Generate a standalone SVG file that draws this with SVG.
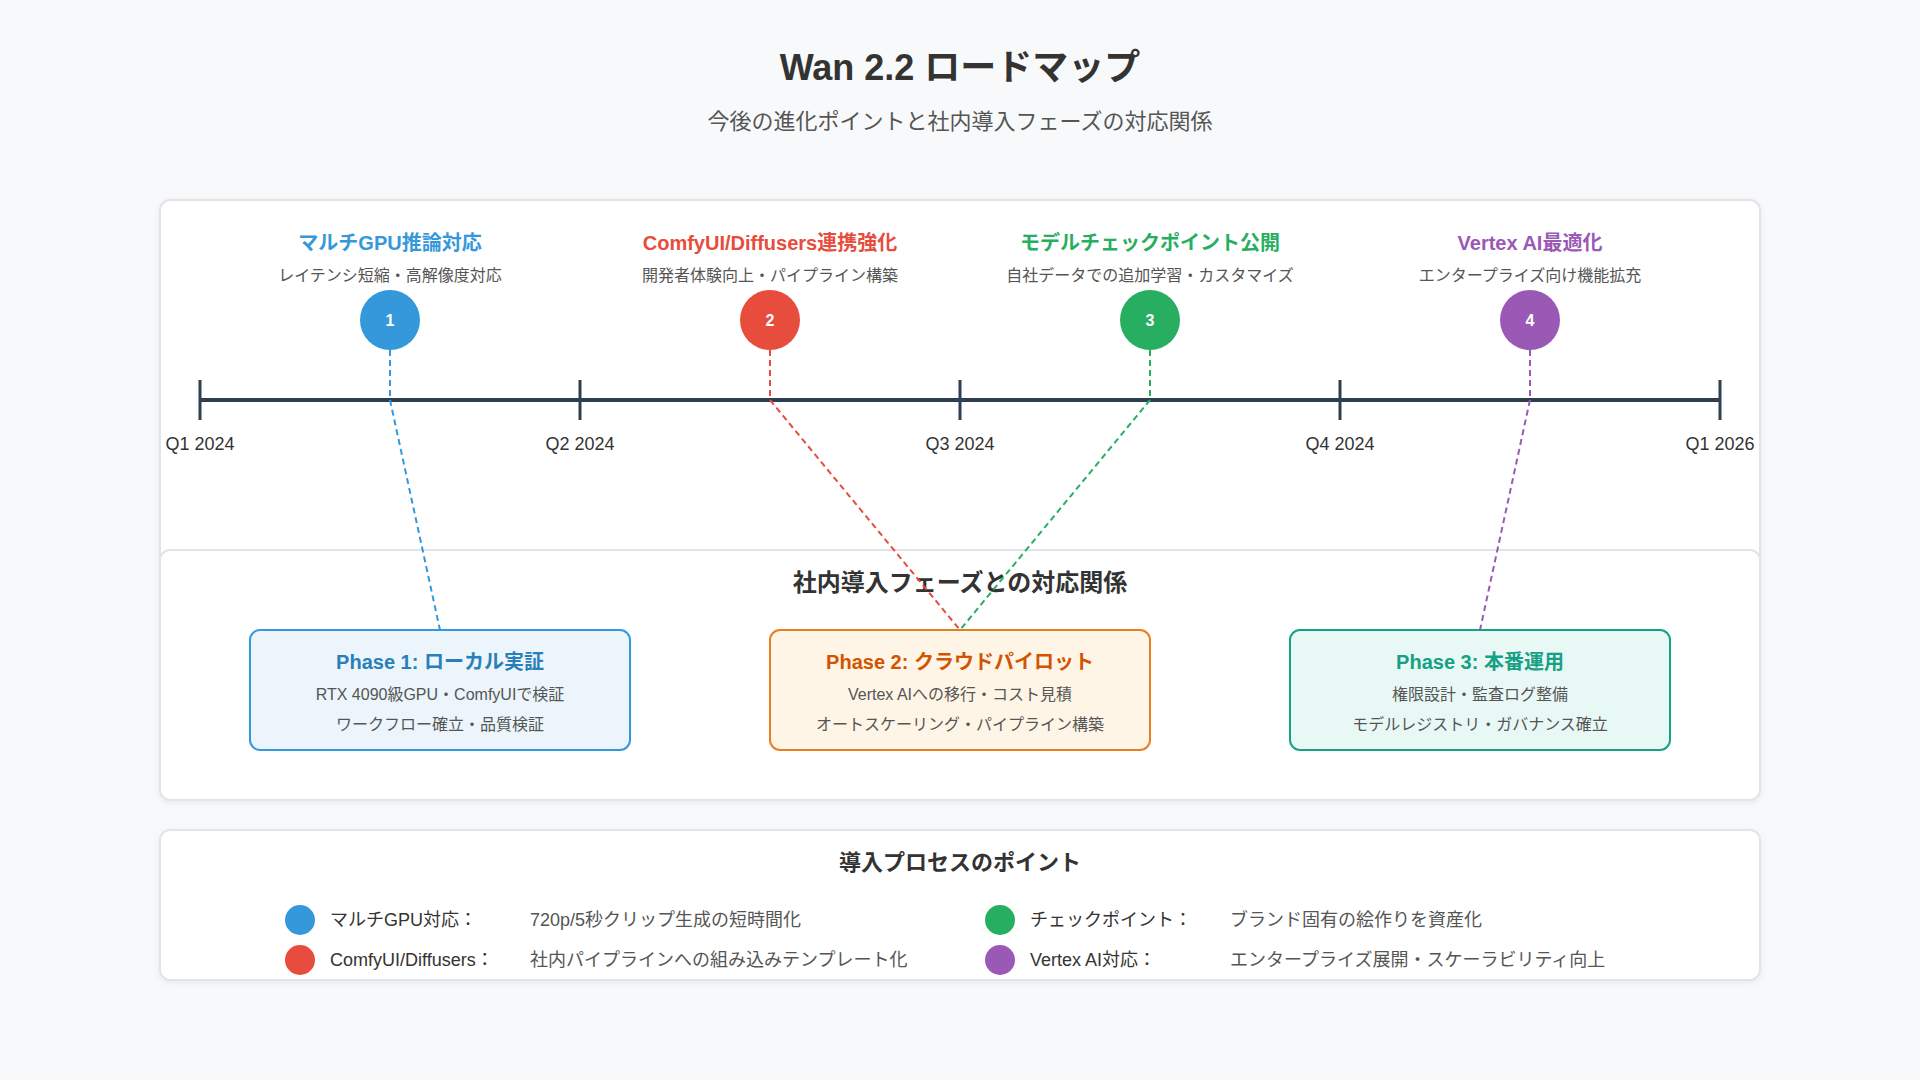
<svg xmlns="http://www.w3.org/2000/svg" width="1920" height="1080" viewBox="0 0 1920 1080">
<defs>
<style>
text{font-family:"Liberation Sans","Noto Sans CJK JP",sans-serif;text-anchor:middle}
.title{font-size:36px;font-weight:bold;fill:#333}
.sub{font-size:22px;fill:#555}
.panel{fill:#fff;stroke:#e2e4e7;stroke-width:2}
.tick{stroke:#2c3e50;stroke-width:3}
.axis{stroke:#2c3e50;stroke-width:4}
.qlab{font-size:18px;fill:#333}
.mtitle{font-size:20px;font-weight:bold}
.mdesc{font-size:16px;fill:#555}
.num{font-size:16px;font-weight:bold;fill:#fff}
.conn{fill:none;stroke-width:2;stroke-dasharray:6 4}
.ptitle{font-size:20px;font-weight:bold}
.pbody{font-size:16px;fill:#555}
.sect{font-weight:bold;fill:#333}
.leg{font-size:18px;fill:#333;text-anchor:start}
.legd{font-size:18px;fill:#555;text-anchor:start}
</style>
<filter id="sh" x="-5%" y="-5%" width="110%" height="115%">
<feDropShadow dx="0" dy="2" stdDeviation="3" flood-color="#000" flood-opacity="0.06"/>
</filter>
</defs>
<rect width="1920" height="1080" fill="#f8f9fa"/>
<text class="title" x="960" y="80">Wan 2.2 ロードマップ</text>
<text class="sub" x="960" y="129">今後の進化ポイントと社内導入フェーズの対応関係</text>

<g id="panel-timeline">
<rect class="panel" x="160" y="200" width="1600" height="600" rx="10" filter="url(#sh)"/>
</g>
<g id="panel-phases">
<rect class="panel" x="160" y="550" width="1600" height="250" rx="10"/>
<text class="sect" x="960" y="591" font-size="24">社内導入フェーズとの対応関係</text>
</g>

<g id="timeline">
<line class="axis" x1="200" y1="400" x2="1720" y2="400"/>
<line class="tick" x1="200" y1="380" x2="200" y2="420"/>
<line class="tick" x1="580" y1="380" x2="580" y2="420"/>
<line class="tick" x1="960" y1="380" x2="960" y2="420"/>
<line class="tick" x1="1340" y1="380" x2="1340" y2="420"/>
<line class="tick" x1="1720" y1="380" x2="1720" y2="420"/>
<text class="qlab" x="200" y="450">Q1 2024</text>
<text class="qlab" x="580" y="450">Q2 2024</text>
<text class="qlab" x="960" y="450">Q3 2024</text>
<text class="qlab" x="1340" y="450">Q4 2024</text>
<text class="qlab" x="1720" y="450">Q1 2026</text>
</g>

<g id="connectors">
<polyline class="conn" stroke="#3498db" points="390,350 390,400 440,630"/>
<polyline class="conn" stroke="#e74c3c" points="770,350 770,400 960,630"/>
<polyline class="conn" stroke="#27ae60" points="1150,350 1150,400 960,630"/>
<polyline class="conn" stroke="#9b59b6" points="1530,350 1530,400 1480,630"/>
</g>

<g id="milestone-1">
<text class="mtitle" x="390" y="250" fill="#3498db">マルチGPU推論対応</text>
<text class="mdesc" x="390" y="281">レイテンシ短縮・高解像度対応</text>
<circle cx="390" cy="320" r="30" fill="#3498db"/>
<text class="num" x="390" y="326">1</text>
</g>
<g id="milestone-2">
<text class="mtitle" x="770" y="250" fill="#e74c3c">ComfyUI/Diffusers連携強化</text>
<text class="mdesc" x="770" y="281">開発者体験向上・パイプライン構築</text>
<circle cx="770" cy="320" r="30" fill="#e74c3c"/>
<text class="num" x="770" y="326">2</text>
</g>
<g id="milestone-3">
<text class="mtitle" x="1150" y="250" fill="#27ae60">モデルチェックポイント公開</text>
<text class="mdesc" x="1150" y="281">自社データでの追加学習・カスタマイズ</text>
<circle cx="1150" cy="320" r="30" fill="#27ae60"/>
<text class="num" x="1150" y="326">3</text>
</g>
<g id="milestone-4">
<text class="mtitle" x="1530" y="250" fill="#9b59b6">Vertex AI最適化</text>
<text class="mdesc" x="1530" y="281">エンタープライズ向け機能拡充</text>
<circle cx="1530" cy="320" r="30" fill="#9b59b6"/>
<text class="num" x="1530" y="326">4</text>
</g>

<g id="phase-1">
<rect x="250" y="630" width="380" height="120" rx="10" fill="#ebf5fb" stroke="#3498db" stroke-width="2"/>
<text class="ptitle" x="440" y="669" fill="#2980b9">Phase 1: ローカル実証</text>
<text class="pbody" x="440" y="700">RTX 4090級GPU・ComfyUIで検証</text>
<text class="pbody" x="440" y="730">ワークフロー確立・品質検証</text>
</g>
<g id="phase-2">
<rect x="770" y="630" width="380" height="120" rx="10" fill="#fef5e7" stroke="#e67e22" stroke-width="2"/>
<text class="ptitle" x="960" y="669" fill="#d35400">Phase 2: クラウドパイロット</text>
<text class="pbody" x="960" y="700">Vertex AIへの移行・コスト見積</text>
<text class="pbody" x="960" y="730">オートスケーリング・パイプライン構築</text>
</g>
<g id="phase-3">
<rect x="1290" y="630" width="380" height="120" rx="10" fill="#e8f8f5" stroke="#16a085" stroke-width="2"/>
<text class="ptitle" x="1480" y="669" fill="#16a085">Phase 3: 本番運用</text>
<text class="pbody" x="1480" y="700">権限設計・監査ログ整備</text>
<text class="pbody" x="1480" y="730">モデルレジストリ・ガバナンス確立</text>
</g>

<g id="legend">
<rect class="panel" x="160" y="830" width="1600" height="150" rx="10" filter="url(#sh)"/>
<text class="sect" x="960" y="870" font-size="22">導入プロセスのポイント</text>
<circle cx="300" cy="920" r="15" fill="#3498db"/>
<text class="leg" x="330" y="926">マルチGPU対応：</text>
<text class="legd" x="530" y="926">720p/5秒クリップ生成の短時間化</text>
<circle cx="300" cy="960" r="15" fill="#e74c3c"/>
<text class="leg" x="330" y="966">ComfyUI/Diffusers：</text>
<text class="legd" x="530" y="966">社内パイプラインへの組み込みテンプレート化</text>
<circle cx="1000" cy="920" r="15" fill="#27ae60"/>
<text class="leg" x="1030" y="926">チェックポイント：</text>
<text class="legd" x="1230" y="926">ブランド固有の絵作りを資産化</text>
<circle cx="1000" cy="960" r="15" fill="#9b59b6"/>
<text class="leg" x="1030" y="966">Vertex AI対応：</text>
<text class="legd" x="1230" y="966">エンタープライズ展開・スケーラビリティ向上</text>
</g>
</svg>
